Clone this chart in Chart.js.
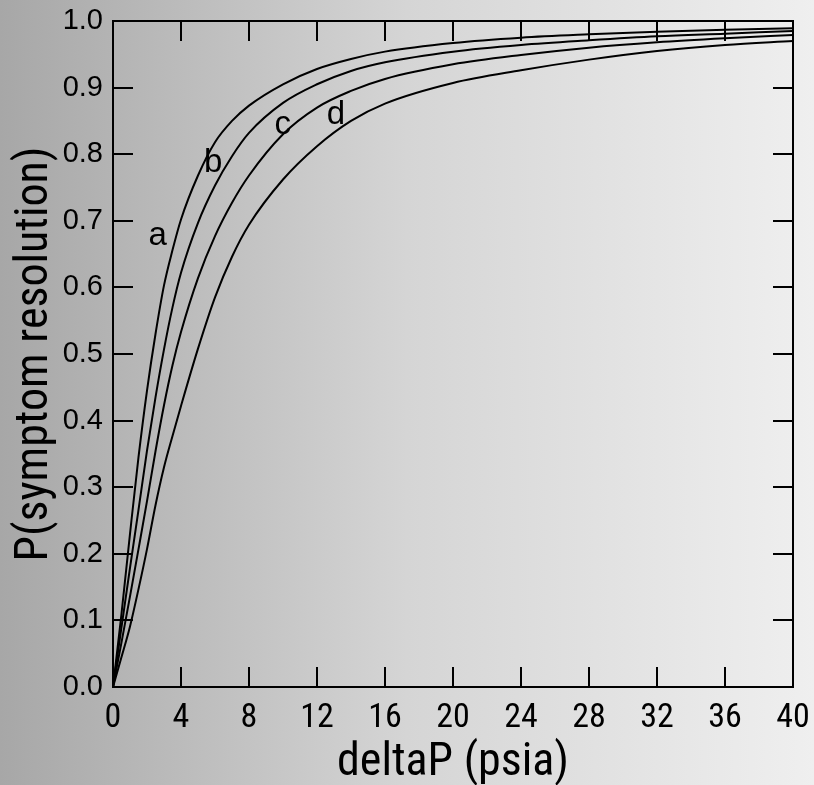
<!DOCTYPE html>
<html lang="en">
<head>
<meta charset="UTF-8">
<title>P(symptom resolution) vs deltaP</title>
<script src="https://cdn.jsdelivr.net/npm/chart.js"></script>
<style>
  html, body { margin: 0; padding: 0; background: #c8c8c8; overflow: hidden; }
  canvas { display: block; }
</style>
</head>
<body>
<canvas id="chart" width="814" height="785"></canvas>
<script>
// deltaP (psia) positions where the curves were read
const deltaP = [0, 0.5, 1, 1.5, 2, 2.5, 3, 3.5, 4, 5, 6, 7, 8, 10, 12, 14, 16, 20, 24, 28, 32, 36, 40];

// P(symptom resolution), one array per curve
const curveA = [0, 0.11, 0.23, 0.345, 0.445, 0.53, 0.603, 0.656, 0.702, 0.768, 0.818, 0.85, 0.873, 0.905, 0.928, 0.943, 0.954, 0.967, 0.975, 0.98, 0.984, 0.987, 0.989];
const curveB = [0, 0.09, 0.179, 0.266, 0.355, 0.435, 0.507, 0.57, 0.622, 0.697, 0.753, 0.797, 0.832, 0.877, 0.905, 0.925, 0.938, 0.954, 0.964, 0.971, 0.977, 0.981, 0.985];
const curveC = [0, 0.067, 0.136, 0.207, 0.279, 0.354, 0.423, 0.483, 0.533, 0.614, 0.677, 0.727, 0.768, 0.83, 0.87, 0.895, 0.913, 0.935, 0.949, 0.96, 0.968, 0.974, 0.979];
const curveD = [0, 0.045, 0.091, 0.147, 0.207, 0.273, 0.33, 0.377, 0.422, 0.508, 0.585, 0.646, 0.694, 0.762, 0.812, 0.85, 0.876, 0.907, 0.926, 0.942, 0.955, 0.964, 0.97];

// curve letters, placed by their baseline (data coords)
const curveLabels = ['a', 'b', 'c', 'd'];
const labelX = [2.63, 5.9, 9.98, 13.12];
const labelY = [0.664, 0.774, 0.831, 0.845];

const xTicks = [0, 4, 8, 12, 16, 20, 24, 28, 32, 36, 40];
const yTicks = [0, 0.1, 0.2, 0.3, 0.4, 0.5, 0.6, 0.7, 0.8, 0.9, 1.0];

const FONT = "'Liberation Sans', Arial, sans-serif";
const NARROW = "'Roboto Condensed', 'Liberation Sans', Arial, sans-serif";

function curve(label, ys) {
    return {
        label: label,
        data: deltaP.map((x, i) => ({ x: x, y: ys[i] })),
        borderColor: '#000',
        borderWidth: 2,
        pointRadius: 0,
        fill: false,
        cubicInterpolationMode: 'monotone'
    };
}

// grey gradient behind everything
const backdrop = {
    id: 'backdrop',
    beforeDraw(chart) {
        const { ctx, width, height } = chart;
        const g = ctx.createLinearGradient(0, 0, width, 0);
        g.addColorStop(0, '#a7a7a7');
        g.addColorStop(0.5, '#d5d5d5');
        g.addColorStop(1, '#efefef');
        ctx.save();
        ctx.fillStyle = g;
        ctx.fillRect(0, 0, width, height);
        ctx.restore();
    }
};

// box round the plot, ticks pointing inward on all four sides, curve letters
const frame = {
    id: 'frame',
    afterDraw(chart) {
        const { ctx, chartArea: ca, scales } = chart;
        const x = scales.x, y = scales.y;
        ctx.save();
        ctx.strokeStyle = '#000';
        ctx.lineWidth = 2;
        ctx.strokeRect(ca.left, ca.top, ca.right - ca.left, ca.bottom - ca.top);
        ctx.beginPath();
        xTicks.forEach(v => {
            const px = Math.round(x.getPixelForValue(v));
            ctx.moveTo(px, ca.bottom); ctx.lineTo(px, ca.bottom - 20);
            ctx.moveTo(px, ca.top); ctx.lineTo(px, ca.top + 20);
        });
        yTicks.forEach(v => {
            const py = Math.round(y.getPixelForValue(v));
            ctx.moveTo(ca.left, py); ctx.lineTo(ca.left + 20, py);
            ctx.moveTo(ca.right, py); ctx.lineTo(ca.right - 20, py);
        });
        ctx.stroke();

        ctx.fillStyle = '#000';
        ctx.font = '33px ' + FONT;
        ctx.textAlign = 'center';
        ctx.textBaseline = 'alphabetic';
        curveLabels.forEach((t, i) => {
            ctx.fillText(t, x.getPixelForValue(labelX[i]), y.getPixelForValue(labelY[i]));
        });
        ctx.restore();
    }
};

new Chart(document.getElementById('chart').getContext('2d'), {
    type: 'line',
    data: {
        datasets: [
            curve('a', curveA),
            curve('b', curveB),
            curve('c', curveC),
            curve('d', curveD)
        ]
    },
    options: {
        responsive: false,
        animation: false,
        events: [],
        layout: { padding: { top: 21, right: 21, left: 0, bottom: 0 } },
        plugins: {
            legend: { display: false },
            tooltip: { enabled: false }
        },
        scales: {
            x: {
                type: 'linear',
                min: 0,
                max: 40,
                afterFit(scale) {
                    scale.height = 98;
                    scale.paddingLeft = 0;
                    scale.paddingRight = 0;
                },
                afterBuildTicks(scale) { scale.ticks = xTicks.map(v => ({ value: v })); },
                grid: { display: false, drawTicks: false },
                border: { display: false },
                ticks: {
                    color: '#000',
                    font: { family: NARROW, size: 34 },
                    padding: 11,
                    maxRotation: 0,
                    autoSkip: false
                },
                title: {
                    display: true,
                    text: 'deltaP (psia)',
                    color: '#000',
                    font: { family: NARROW, size: 46 },
                    padding: { top: 0, bottom: -6 }
                }
            },
            y: {
                type: 'linear',
                min: 0,
                max: 1,
                afterFit(scale) {
                    scale.width = 113;
                    scale.paddingTop = 0;
                    scale.paddingBottom = 0;
                },
                afterBuildTicks(scale) { scale.ticks = yTicks.map(v => ({ value: v })); },
                grid: { display: false, drawTicks: false },
                border: { display: false },
                ticks: {
                    color: '#000',
                    font: { family: FONT, size: 29 },
                    padding: 10,
                    autoSkip: false,
                    callback: v => v.toFixed(1)
                },
                title: {
                    display: true,
                    text: 'P(symptom resolution)',
                    color: '#000',
                    font: { family: NARROW, size: 46 },
                    padding: { top: 8, bottom: 0 }
                }
            }
        }
    },
    plugins: [backdrop, frame]
});
</script>
</body>
</html>
